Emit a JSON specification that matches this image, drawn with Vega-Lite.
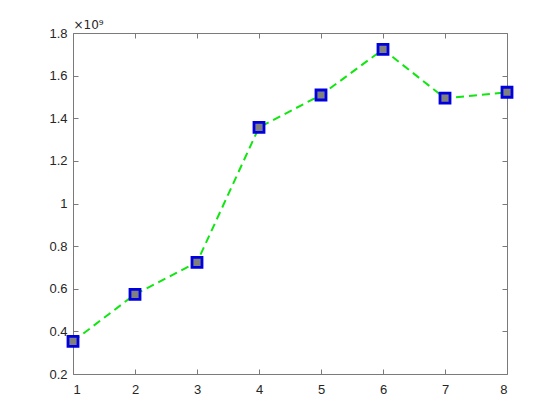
{
  "$schema": "https://vega.github.io/schema/vega-lite/v6.json",
  "width": 434,
  "height": 341,
  "autosize": "none",
  "padding": {"left": 73, "top": 33, "right": 53, "bottom": 46},
  "background": "white",
  "config": {
    "view": {"stroke": null},
    "axis": {
      "labelFont": "Liberation Sans",
      "labelFontSize": 13,
      "labelColor": "#262626",
      "domainColor": "#7a7a7a",
      "tickColor": "#7a7a7a",
      "tickSize": -5,
      "grid": false,
      "titleFont": "DejaVu Sans",
      "titleFontWeight": "normal",
      "titleColor": "#262626"
    }
  },
  "data": {
    "values": [
      {"x": 1, "y": 353000000},
      {"x": 2, "y": 574000000},
      {"x": 3, "y": 724000000},
      {"x": 4, "y": 1357000000},
      {"x": 5, "y": 1509000000},
      {"x": 6, "y": 1723000000},
      {"x": 7, "y": 1494000000},
      {"x": 8, "y": 1522000000}
    ]
  },
  "resolve": {"axis": {"x": "independent", "y": "independent"}},
  "layer": [
    {
      "mark": {"type": "line", "stroke": "#10e610", "strokeWidth": 2, "strokeDash": [8, 5], "clip": false},
      "encoding": {
        "x": {"field": "x", "type": "quantitative", "scale": {"domain": [1, 8], "nice": false, "zero": false},
          "axis": {"orient": "bottom", "values": [1,2,3,4,5,6,7,8], "title": null, "labelPadding": 14, "format": "d"}},
        "y": {"field": "y", "type": "quantitative", "scale": {"domain": [200000000, 1800000000], "nice": false, "zero": false},
          "axis": {"orient": "left", "values": [200000000,400000000,600000000,800000000,1000000000,1200000000,1400000000,1600000000,1800000000],
            "labelExpr": "format(datum.value/1e9, '~g')", "labelPadding": 11,
            "title": "×10⁹", "titleAngle": 0, "titleX": 0, "titleY": -2, "titleAlign": "left", "titleBaseline": "bottom", "titleFontSize": 12}}
      }
    },
    {
      "mark": {"type": "point", "shape": "square", "filled": false, "fill": "#808080", "fillOpacity": 1, "stroke": "#0000e0", "strokeWidth": 2.8, "size": 100, "opacity": 1, "clip": false},
      "encoding": {
        "x": {"field": "x", "type": "quantitative",
          "axis": {"orient": "top", "values": [1,2,3,4,5,6,7,8], "labels": false, "title": null}},
        "y": {"field": "y", "type": "quantitative",
          "axis": {"orient": "right", "values": [200000000,400000000,600000000,800000000,1000000000,1200000000,1400000000,1600000000,1800000000], "labels": false, "title": null}}
      }
    }
  ]
}
